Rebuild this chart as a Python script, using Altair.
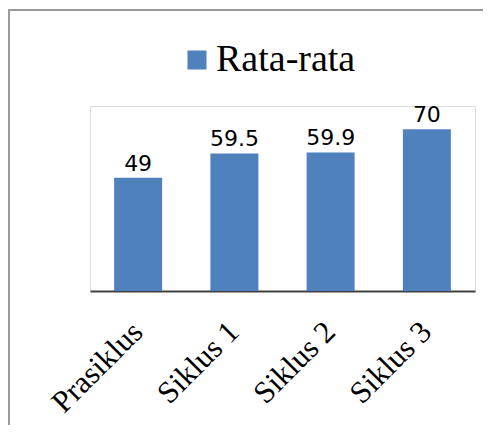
import altair as alt
import pandas as pd

categories = ["Prasiklus", "Siklus 1", "Siklus 2", "Siklus 3"]
values = [49, 59.5, 59.9, 70]
series = ["Rata-rata"] * 4

df = pd.DataFrame({"kategori": categories, "nilai": values, "seri": series})

base = alt.Chart(df)

bars = base.mark_bar(size=48).encode(
    x=alt.X("kategori:N", sort=categories, title=None,
            scale=alt.Scale(paddingInner=0.5, paddingOuter=0.25),
            axis=alt.Axis(labelAngle=-45, labelFont="Liberation Serif", labelFontSize=31,
                          labelColor="#000000", ticks=False, domainColor="#404040",
                          domainWidth=2, labelPadding=36, labelAlign="right",
                          labelBaseline="middle")),
    y=alt.Y("nilai:Q", title=None, scale=alt.Scale(domain=[0, 80]), axis=None),
    color=alt.Color("seri:N", scale=alt.Scale(range=["#4F81BD"]),
                    legend=alt.Legend(title=None, orient="none", legendX=88, legendY=-65,
                                      symbolType="square", symbolSize=361,
                                      symbolStrokeWidth=0, labelFont="Liberation Serif",
                                      labelFontSize=38, labelColor="#000000",
                                      labelOffset=0, padding=0, labelLimit=400)),
)

labels = base.mark_text(dy=-7, baseline="alphabetic", font="DejaVu Sans", fontSize=22,
                        color="#000000").encode(
    x=alt.X("kategori:N", sort=categories),
    y=alt.Y("nilai:Q"),
    text=alt.Text("nilai:Q"),
)

frame_left = alt.Chart(df).mark_rule(color="#999999", strokeWidth=3).encode(
    x=alt.value(-82), y=alt.value(-96), y2=alt.value(340)
)
frame_top = alt.Chart(df).mark_rule(color="#999999", strokeWidth=2).encode(
    x=alt.value(-83), x2=alt.value(420), y=alt.value(-96)
)

chart = alt.layer(frame_left, frame_top, bars, labels).properties(
    width=385, height=185,
    padding={"left": 82, "top": 98, "right": 8, "bottom": 134},
    autosize=alt.AutoSizeParams(type="none"),
).configure_view(stroke="#D9D9D9", strokeWidth=1.5).configure(background="white")

chart.save("out.html", embed_options={"renderer": "svg", "actions": False})
